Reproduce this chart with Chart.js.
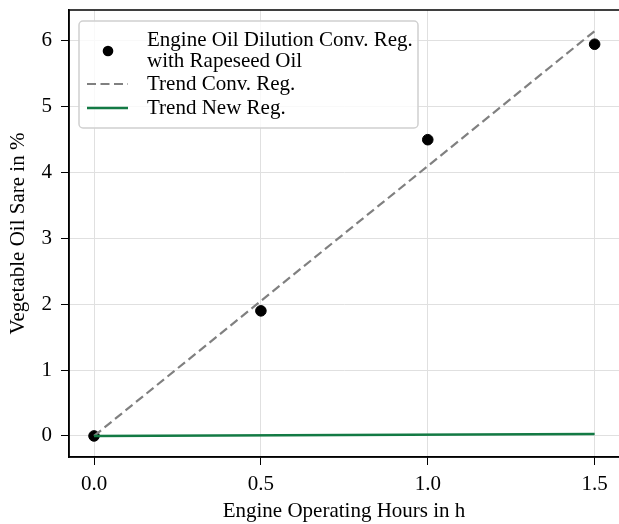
<!DOCTYPE html>
<html><head><meta charset="utf-8">
<script src="https://cdn.jsdelivr.net/npm/chart.js@4/dist/chart.umd.min.js"></script>
<style>html,body{margin:0;padding:0;background:#fff;overflow:hidden}canvas{display:block}</style>
</head><body>
<canvas id="c" width="619" height="524"></canvas>
<script>
const hours = [0.0, 0.5, 1.0, 1.5];
const dilution = [0.0, 1.9, 4.5, 5.95];
const trendConvX = [0.0, 1.5];
const trendConvY = [0.0, 6.15];
const trendNewX = [0.0, 1.5];
const trendNewY = [0.0, 0.03];
const xTicks = [0.0, 0.5, 1.0, 1.5];
const yTicks = [0, 1, 2, 3, 4, 5, 6];
const legendLabels = [["Engine Oil Dilution Conv. Reg.", "with Rapeseed Oil"], ["Trend Conv. Reg."], ["Trend New Reg."]];

const FONT = "'Liberation Serif', 'DejaVu Serif', serif";
const FS = 21;
const GREEN = '#137a44';
const toPts = (xs, ys) => xs.map((x, i) => ({x, y: ys[i]}));

const legendPlugin = {
  id: 'customLegend',
  afterDraw(chart) {
    const ctx = chart.ctx;
    ctx.save();
    const x0 = 79, y0 = 21, w = 339, h = 107, r = 4;
    ctx.beginPath();
    ctx.moveTo(x0 + r, y0);
    ctx.arcTo(x0 + w, y0, x0 + w, y0 + h, r);
    ctx.arcTo(x0 + w, y0 + h, x0, y0 + h, r);
    ctx.arcTo(x0, y0 + h, x0, y0, r);
    ctx.arcTo(x0, y0, x0 + w, y0, r);
    ctx.closePath();
    ctx.fillStyle = 'rgba(255,255,255,0.8)';
    ctx.fill();
    ctx.strokeStyle = '#d0d0d0';
    ctx.lineWidth = 1.5;
    ctx.stroke();
    ctx.font = FS + 'px ' + FONT;
    ctx.fillStyle = '#000';
    ctx.textBaseline = 'middle';
    ctx.textAlign = 'left';
    const tx = 147;
    ctx.beginPath(); ctx.arc(108, 51, 5.3, 0, Math.PI * 2); ctx.fill();
    ctx.fillText(legendLabels[0][0], tx, 40);
    ctx.fillText(legendLabels[0][1], tx, 61);
    ctx.strokeStyle = '#808080'; ctx.lineWidth = 2.2; ctx.setLineDash([9, 4.5]);
    ctx.beginPath(); ctx.moveTo(87, 84); ctx.lineTo(128, 84); ctx.stroke();
    ctx.fillText(legendLabels[1][0], tx, 84);
    ctx.setLineDash([]); ctx.strokeStyle = GREEN; ctx.lineWidth = 2.5;
    ctx.beginPath(); ctx.moveTo(87, 108); ctx.lineTo(128, 108); ctx.stroke();
    ctx.fillText(legendLabels[2][0], tx, 108);
    ctx.restore();
  }
};

new Chart(document.getElementById('c'), {
  type: 'scatter',
  data: {
    datasets: [
      { label: legendLabels[0].join(' '), data: toPts(hours, dilution), backgroundColor: '#000', borderColor: '#000',
        pointRadius: 5.3, pointHoverRadius: 5.3, showLine: false, order: 3 },
      { label: legendLabels[1][0], data: toPts(trendConvX, trendConvY), borderColor: '#808080', borderWidth: 2.2,
        borderDash: [9, 4.5], pointRadius: 0, showLine: true, fill: false, order: 2 },
      { label: legendLabels[2][0], data: toPts(trendNewX, trendNewY), borderColor: GREEN, borderWidth: 2.5,
        pointRadius: 0, showLine: true, fill: false, order: 1 }
    ]
  },
  options: {
    responsive: false,
    animation: false,
    layout: { autoPadding: false, padding: { top: 10, right: 0, left: 0, bottom: 0 } },
    plugins: { legend: { display: false }, tooltip: { enabled: false } },
    scales: {
      x: {
        type: 'linear', min: -0.075, max: 1.573,
        afterBuildTicks: (s) => { s.ticks = xTicks.map(v => ({value: v})); },
        afterFit: (s) => { s.height = 67; s.paddingLeft = 0; s.paddingRight = 0; },
        ticks: { font: { family: FONT, size: FS }, color: '#000', padding: 7,
                 callback: (v) => v.toFixed(1) },
        grid: { color: '#e0e0e0', lineWidth: 1, tickColor: '#000', tickLength: 8, drawTicks: true },
        border: { color: '#000', width: 1.5 },
        title: { display: true, text: 'Engine Operating Hours in h', font: { family: FONT, size: FS }, color: '#000', padding: { top: 3, bottom: 0 } }
      },
      y: {
        type: 'linear', min: -0.32, max: 6.47,
        afterBuildTicks: (s) => { s.ticks = yTicks.map(v => ({value: v})); },
        afterFit: (s) => { s.width = 69; s.paddingTop = 0; s.paddingBottom = 0; },
        ticks: { font: { family: FONT, size: FS }, color: '#000', padding: 9,
                 callback: (v) => String(v) },
        grid: { color: '#e0e0e0', lineWidth: 1, tickColor: '#000', tickLength: 8, drawTicks: true },
        border: { color: '#000', width: 1.5 },
        title: { display: true, text: 'Vegetable Oil Sare in %', font: { family: FONT, size: FS }, color: '#000', padding: { top: 6, bottom: 4 } }
      }
    }
  },
  plugins: [legendPlugin, {
    id: 'frame',
    afterDatasetsDraw(chart) {
      const a = chart.chartArea, ctx = chart.ctx;
      ctx.save(); ctx.strokeStyle = '#000'; ctx.lineWidth = 1.5;
      ctx.strokeRect(a.left, a.top, a.right - a.left + 3, a.bottom - a.top);
      ctx.restore();
    }
  }]
});
</script>
</body></html>
